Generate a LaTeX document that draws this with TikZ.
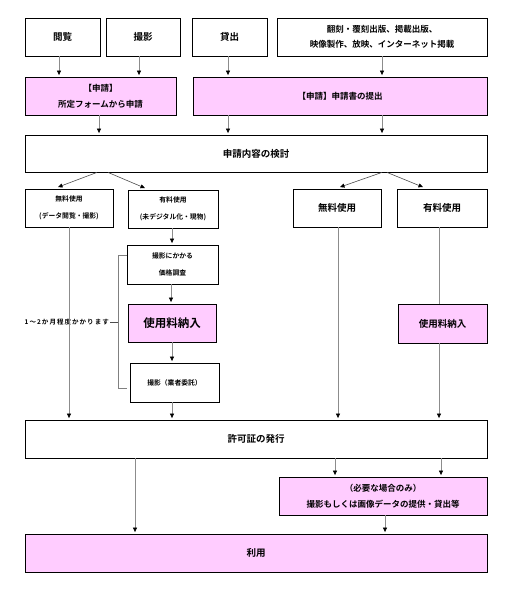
\documentclass[tikz,border=0pt]{standalone}
\usepackage{fontspec}
\setmainfont{Noto Sans CJK JP}[BoldFont={* Bold}]
\usetikzlibrary{arrows.meta}
\definecolor{pinkfill}{RGB}{255,204,255}
\tikzset{
  box/.style={draw=black, line width=0.8pt, minimum width=#1, inner sep=0pt, align=center, font=\fontsize{9.5pt}{17pt}\selectfont\bfseries},
  pbox/.style={box=#1, fill=pinkfill},
  arr/.style={draw=black!45, line width=0.7pt, -{Triangle[length=4.5pt,width=4pt,color=black,fill=black]}, shorten >=1.5pt},
  darr/.style={draw=black!70, line width=0.6pt, -{Triangle[length=4.5pt,width=4pt,color=black,fill=black]}},
  small/.style={font=\fontsize{6.8pt}{17pt}\selectfont\bfseries},
}
\begin{document}
\begin{tikzpicture}[x=1pt,y=-1pt]
\useasboundingbox (0,0) rectangle (511,592);
% top row
\node[box=75pt, minimum height=38pt] (etsuran) at (62.5,37) {閲覧};
\node[box=74pt, minimum height=38pt] (satsuei) at (143,37) {撮影};
\node[box=75pt, minimum height=38pt] (kashi) at (229.5,37) {貸出};
\node[box=210pt, minimum height=38pt, font=\fontsize{8.5pt}{15pt}\selectfont\bfseries] (honkoku) at (382,37) {翻刻・覆刻出版、掲載出版、\\映像製作、放映、インターネット掲載};
% application
\node[pbox=151pt, minimum height=38pt, font=\fontsize{8.5pt}{16pt}\selectfont\bfseries] (shinsei1) at (100.5,96) {【申請】\\所定フォームから申請};
\node[pbox=294pt, minimum height=38pt, font=\fontsize{8.5pt}{16pt}\selectfont\bfseries] (shinsei2) at (340,96) {【申請】申請書の提出};
\node[box=462pt, minimum height=37pt] (kento) at (256,153.5) {申請内容の検討};
% third row
\node[box=88pt, minimum height=38pt, small] (muryoL) at (69,208) {無料使用\\(データ閲覧・撮影)};
\node[box=90pt, minimum height=38pt, small] (yuryoL) at (173,209) {有料使用\\(未デジタル化・現物)};
\node[box=88pt, minimum height=38pt] (muryoR) at (337,208) {無料使用};
\node[box=90pt, minimum height=38pt] (yuryoR) at (442,208) {有料使用};
\node[box=91pt, minimum height=39pt, small] (kakaku) at (172.5,264.5) {撮影にかかる\\価格調査};
\node[pbox=88pt, minimum height=38pt, font=\fontsize{11.5pt}{14pt}\selectfont\bfseries] (nonyuL) at (172,323) {使用料納入};
\node[box=89pt, minimum height=39pt, small] (gyosha) at (174.5,382.5) {撮影（業者委託）};
\node[pbox=89pt, minimum height=39pt] (nonyuR) at (442.5,323.5) {使用料納入};
\node[box=462pt, minimum height=38pt] (kyoka) at (256,439) {許可証の発行};
\node[pbox=208pt, minimum height=38pt, font=\fontsize{8.5pt}{16pt}\selectfont\bfseries] (hitsuyo) at (383,496) {（必要な場合のみ）\\撮影もしくは画像データの提供・貸出等};
\node[pbox=462pt, minimum height=38pt] (riyo) at (256,553) {利用};
% bracket and label
\coordinate (bt) at (127,255);
\coordinate (bb) at (127,388);
\coordinate (bm) at (118,322);
\draw[black!50, line width=0.7pt] (bt) -- (118,255) -- (118,388) -- (bb);
\draw[black!70, line width=0.7pt] (bm) -- (110,322);
\node[anchor=east, inner sep=0pt, font=\fontsize{6.5pt}{8pt}\selectfont\bfseries\addfontfeature{LetterSpace=16}] (dur) at (109,322) {1～2か月程度かかります};
% arrows
\draw[arr] (etsuran.south -| 59,0) -- (shinsei1.north -| 59,0);
\draw[arr] (satsuei.south -| 139,0) -- (shinsei1.north -| 139,0);
\draw[arr] (kashi.south -| 228,0) -- (shinsei2.north -| 228,0);
\draw[arr] (honkoku.south -| 382,0) -- (shinsei2.north -| 382,0);
\draw[arr] (shinsei1.south -| 99,0) -- (kento.north -| 99,0);
\draw[arr] (shinsei2.south -| 228,0) -- (kento.north -| 228,0);
\draw[arr] (shinsei2.south -| 382,0) -- (kento.north -| 382,0);
\draw[darr] (kento.south -| 97,0) -- ([yshift=1.5pt]muryoL.north -| 58,0);
\draw[darr] (kento.south -| 108,0) -- ([yshift=1.5pt]yuryoL.north -| 145,0);
\draw[darr] (kento.south -| 382,0) -- ([yshift=1.5pt]muryoR.north -| 340,0);
\draw[darr] (kento.south -| 387,0) -- ([yshift=1.5pt]yuryoR.north -| 423,0);
\draw[arr] (yuryoL.south -| 172,0) -- (kakaku.north -| 172,0);
\draw[arr] (kakaku.south -| 171,0) -- (nonyuL.north -| 171,0);
\draw[arr] (nonyuL.south -| 172,0) -- (gyosha.north -| 172,0);
\draw[arr] (gyosha.south -| 172,0) -- (kyoka.north -| 172,0);
\draw[arr] (muryoL.south -| 69,0) -- (kyoka.north -| 69,0);
\draw[arr] (muryoR.south -| 338,0) -- (kyoka.north -| 338,0);
\draw[arr, shorten >=0pt, -] (yuryoR.south -| 439,0) -- (nonyuR.north -| 439,0);
\draw[arr] (nonyuR.south -| 439,0) -- (kyoka.north -| 439,0);
\draw[arr] (kyoka.south -| 135,0) -- (riyo.north -| 135,0);
\draw[arr] (kyoka.south -| 335,0) -- (hitsuyo.north -| 335,0);
\draw[arr] (kyoka.south -| 441,0) -- (hitsuyo.north -| 441,0);
\draw[arr] (hitsuyo.south -| 385,0) -- (riyo.north -| 385,0);
\end{tikzpicture}
\end{document}
